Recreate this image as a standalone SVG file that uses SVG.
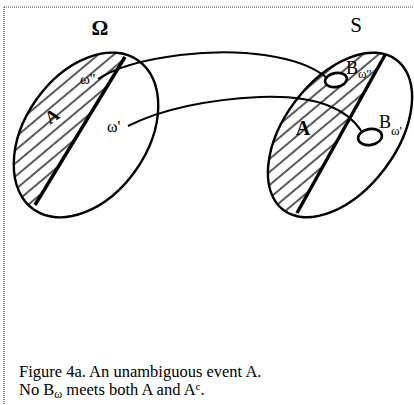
<svg xmlns="http://www.w3.org/2000/svg" width="414" height="405" viewBox="0 0 414 405">
<style>
.outline{fill:none;stroke:#000;stroke-width:2.4}
.thick{fill:none;stroke:#000;stroke-width:3.4}
.conn{fill:none;stroke:#000;stroke-width:2}
.small{fill:#fff;stroke:#000;stroke-width:2.6}
.frame{fill:none;stroke:#444;stroke-width:1.2;stroke-dasharray:1 1}
.lbl{font-family:"Liberation Serif","Times New Roman",serif;fill:#000}
.cap{font-family:"Liberation Serif","Times New Roman",serif;font-size:16.5px;fill:#000}
</style>
<defs>
<pattern id="hatch" patternUnits="userSpaceOnUse" width="10" height="10" patternTransform="rotate(-40)">
<line x1="-1" y1="5" x2="11" y2="5" stroke="#000" stroke-width="1.3"/>
</pattern>
<clipPath id="clipO"><ellipse cx="86" cy="135" rx="61" ry="91" transform="rotate(35 86 135)"/></clipPath>
<clipPath id="clipS"><ellipse cx="340" cy="135" rx="56" ry="94" transform="rotate(37 340 135)"/></clipPath>
</defs>
<g id="frame">
<line class="frame" x1="4" y1="7" x2="414" y2="7"/>
<line class="frame" x1="4" y1="7" x2="4" y2="405"/>
</g>
<g id="omega">
<polygon points="170,-17 -10,279 -50,279 -50,-17" fill="url(#hatch)" clip-path="url(#clipO)"/>
<line class="thick" x1="125" y1="57" x2="35" y2="205" clip-path="url(#clipO)"/>
<ellipse class="outline" cx="86" cy="135" rx="61" ry="91" transform="rotate(35 86 135)"/>
<text class="lbl" x="100" y="35" font-size="21" font-weight="bold" text-anchor="middle">Ω</text>
<text class="lbl" x="52" y="122" font-size="18" font-weight="bold" text-anchor="middle" transform="rotate(-35 52 116)">A</text>
<text class="lbl" x="80" y="84" font-size="15">ω''</text>
<text class="lbl" x="107" y="132" font-size="16">ω'</text>
</g>
<g id="s">
<polygon points="429,-24 253,292 200,292 200,-24" fill="url(#hatch)" clip-path="url(#clipS)"/>
<line class="thick" x1="385" y1="55" x2="297" y2="213" clip-path="url(#clipS)"/>
<ellipse class="outline" cx="340" cy="135" rx="56" ry="94" transform="rotate(37 340 135)"/>
<text class="lbl" x="356" y="32" font-size="21" text-anchor="middle">S</text>
<text class="lbl" x="303" y="135" font-size="20" font-weight="bold" text-anchor="middle">A</text>
</g>
<g id="connectors">
<path class="conn" d="M98,79 C115,68 140,60 180,55 C240,48 300,55 327,78"/>
<path class="conn" d="M128,126 C160,110 200,100 260,97 C310,95 345,105 362,132"/>
</g>
<g id="b-omega2">
<ellipse class="small" cx="336" cy="80" rx="11" ry="7" transform="rotate(-10 336 80)"/>
<text class="lbl" x="346" y="74" font-size="18">B<tspan font-size="13" dy="4">ω''</tspan></text>
</g>
<g id="b-omega1">
<ellipse class="small" cx="370" cy="137" rx="12" ry="8" transform="rotate(-10 370 137)"/>
<text class="lbl" x="379" y="128" font-size="18">B<tspan font-size="13" dy="7">ω'</tspan></text>
</g>
<g id="caption">
<text class="cap" x="19" y="377">Figure 4a. An unambiguous event A.</text>
<text class="cap" x="19" y="395">No B<tspan font-size="12" dy="3">ω</tspan><tspan dy="-3"> meets both A and A</tspan><tspan font-size="11" dy="-5">c</tspan><tspan dy="5">.</tspan></text>
</g>
</svg>
